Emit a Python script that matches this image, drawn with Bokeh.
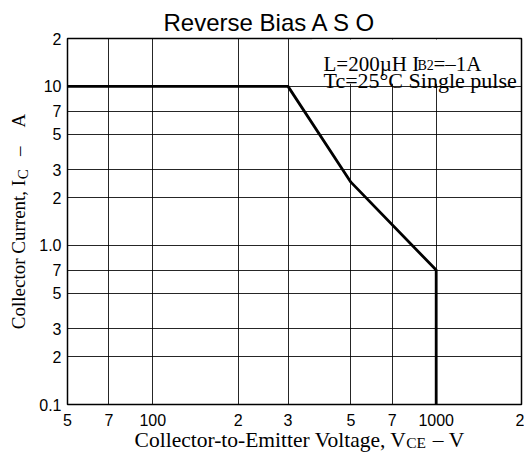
from bokeh.plotting import figure
from bokeh.models import FixedTicker, Label, BoxAnnotation, Range1d, LogAxis
from bokeh.embed import file_html
from bokeh.resources import INLINE

# ---- data ----
vce = [50, 300, 500, 1000, 1000]
ic = [10, 10, 2.5, 0.7, 0.1]

x_ticks = [50, 70, 100, 200, 300, 500, 700, 1000, 2000]
x_tick_labels = ["5", "7", "100", "2", "3", "5", "7", "1000", "2"]
y_ticks = [0.1, 0.2, 0.3, 0.5, 0.7, 1.0, 2, 3, 5, 7, 10, 20]
y_tick_labels = ["0.1", "2", "3", "5", "7", "1.0", "2", "3", "5", "7", "10", "2"]

title_text = "Reverse Bias A S O"
note1_main, note1_sub, note1_end = "L=200\u00b5H I", "B2", "=\u20131A"
note2 = "Tc=25\u00b0C Single pulse"
NB = "\u00a0"
ylab_text = "Collector Current, I" + NB * 5 + "\u2013" + NB * 4 + "A"
ylab_sub = "C"
xlab_text = NB * 2 + "Collector-to-Emitter Voltage, V" + NB * 5 + "\u2013" + NB + "V"
xlab_sub = "CE"

SANS = "Liberation Sans"
SERIF = "Liberation Serif"

p = figure(width=524, height=454, x_axis_type="log", y_axis_type="log",
           x_range=Range1d(50, 2000), y_range=Range1d(0.1, 20),
           output_backend="svg", toolbar_location=None, title=title_text,
           min_border_left=67, min_border_right=3, min_border_top=38, min_border_bottom=50)
p.background_fill_color = "white"
p.border_fill_color = "white"
p.outline_line_color = "black"
p.outline_line_width = 1.5

p.title.align = "left"
p.title.offset = 96
p.title.text_font = SANS
p.title.text_font_size = "24px"
p.title.text_font_style = "normal"
p.title.text_color = "black"
p.title.standoff = 6

p.xaxis.ticker = FixedTicker(ticks=x_ticks, minor_ticks=[])
p.yaxis.ticker = FixedTicker(ticks=y_ticks, minor_ticks=[])
p.xaxis.major_label_overrides = {t: l for t, l in zip(x_ticks, x_tick_labels)}
p.yaxis.major_label_overrides = {t: l for t, l in zip(y_ticks, y_tick_labels)}


def plain(ax):
    ax.axis_line_color = None
    ax.major_tick_line_color = None
    ax.minor_tick_line_color = None
    ax.major_tick_out = 0
    ax.major_tick_in = 0
    ax.minor_tick_out = 0
    ax.minor_tick_in = 0
    ax.major_label_text_color = "black"
    ax.axis_label_text_color = "black"
    ax.axis_label_text_font_style = "normal"


for ax in (p.xaxis[0], p.yaxis[0]):
    plain(ax)
    ax.major_label_text_font = SANS
    ax.major_label_text_font_size = "16px"
p.xaxis.major_label_standoff = 9
p.yaxis.major_label_standoff = 6

# subscript carriers: extra axes whose only tick label is the subscript,
# and whose axis label (pulled onto the same line) is the main text
x_sub_at = 850
y_sub_at = 2.8
xsub = LogAxis(ticker=FixedTicker(ticks=[x_sub_at], minor_ticks=[]),
               major_label_overrides={x_sub_at: xlab_sub}, axis_label=xlab_text)
plain(xsub)
xsub.major_label_text_font = SERIF
xsub.major_label_text_font_size = "15.5px"
xsub.major_label_standoff = 5
xsub.axis_label_text_font = SERIF
xsub.axis_label_text_font_size = "21.5px"
xsub.axis_label_standoff = -26
p.add_layout(xsub, "below")

ysub = LogAxis(ticker=FixedTicker(ticks=[y_sub_at], minor_ticks=[]),
               major_label_overrides={y_sub_at: ylab_sub}, axis_label=ylab_text,
               major_label_orientation="vertical")
plain(ysub)
ysub.major_label_text_font = SERIF
ysub.major_label_text_font_size = "15px"
ysub.major_label_standoff = 5
ysub.axis_label_text_font = SERIF
ysub.axis_label_text_font_size = "19px"
ysub.axis_label_standoff = -16
p.add_layout(ysub, "left")

for g in (p.xgrid, p.ygrid):
    g.grid_line_color = "black"
    g.grid_line_width = 1
    g.grid_line_alpha = 0.85

p.line(vce, ic, line_color="black", line_width=2.8)

# white box behind the conditions note
p.add_layout(BoxAnnotation(left=365, right=1960, bottom=10.4, top=19.7,
                           fill_color="white", fill_alpha=1, line_color=None))


def lab(text, x, y, size, font):
    p.add_layout(Label(x=x, y=y, x_units="screen", y_units="screen", text=text,
                       text_font=font, text_font_size=f"{size}px", text_color="black",
                       text_align="left", text_baseline="alphabetic"))


lab(note1_main, 256, 341, 21, SERIF)
lab(note1_sub, 350, 339, 14, SERIF)
lab(note1_end, 366, 341, 21, SERIF)
lab(note2, 256, 324, 22, SERIF)

open("out.html", "w").write(file_html(p, INLINE))
